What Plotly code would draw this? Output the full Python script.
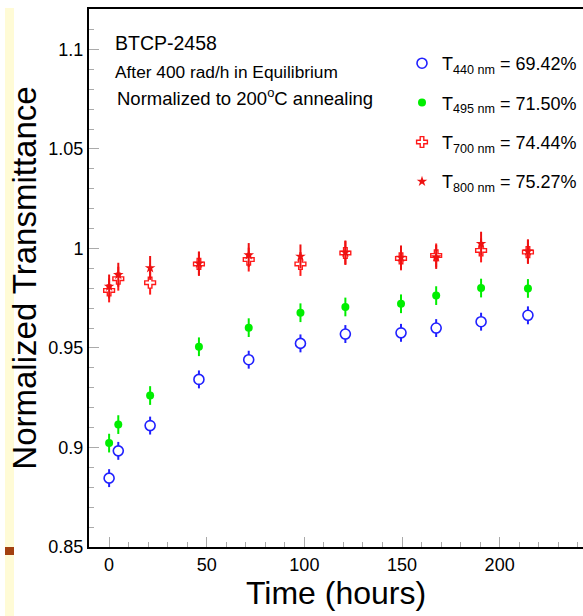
import plotly.graph_objects as go

# ---- data ----
time_h = [0, 4.7, 21, 46, 71.5, 98, 121, 149.5, 167.5, 190.5, 214.5]

t440 = [0.8846, 0.8983, 0.9110, 0.9342, 0.9441, 0.9523, 0.9570, 0.9576, 0.9600, 0.9632, 0.9664]
t495 = [0.9022, 0.9115, 0.9261, 0.9506, 0.9602, 0.9677, 0.9706, 0.9722, 0.9763, 0.9801, 0.9799]
t700 = [0.9789, 0.9848, 0.9828, 0.9922, 0.9944, 0.9922, 0.9977, 0.9950, 0.9965, 0.9990, 0.9982]
t800 = [0.9809, 0.9868, 0.9902, 0.9925, 0.9967, 0.9960, 0.9980, 0.9955, 0.9957, 1.0024, 0.9986]

err440 = [0.0045] * 11
err495 = [0.0047] * 11
err700 = [0.0060] * 11
err800 = [0.0060] * 11

names = [
    "T<sub>440 nm</sub> = 69.42%",
    "T<sub>495 nm</sub> = 71.50%",
    "T<sub>700 nm</sub> = 74.44%",
    "T<sub>800 nm</sub> = 75.27%",
]

x_ticks = [0, 50, 100, 150, 200]
y_ticks = [0.85, 0.9, 0.95, 1.0, 1.05, 1.1]
y_tick_text = ["0.85", "0.9", "0.95", "1", "1.05", "1.1"]

FONT = "Liberation Sans, Arial, Helvetica, sans-serif"

fig = go.Figure()

series = [
    # values, errors, name, line colour, fill colour, symbol, size, line width
    (t440, err440, names[0], "#2020ff", "white", "circle", 10, 1.6),
    (t495, err495, names[1], "#00ee00", "#00ee00", "circle", 8, 0),
    (t700, err700, names[2], "#ff1a1a", "white", "cross", 9, 1.4),
    (t800, err800, names[3], "#ee1111", "#ee1111", "star", 8, 0),
]
for i, (vals, errs, nm, col, fill, sym, sz, lw) in enumerate(series):
    fig.add_trace(go.Scatter(
        x=time_h, y=vals, mode="markers", name=nm,
        legendgroup=f"g{i}",
        marker=dict(symbol=sym, size=sz, color=fill,
                    line=dict(width=lw, color=col)),
        error_y=dict(type="data", array=errs, visible=True,
                     width=0, thickness=2, color=col),
    ))

annotations = [
    dict(text="BTCP-2458", x=113, y=43, size=19.5),
    dict(text="After 400 rad/h in Equilibrium", x=113, y=72, size=17.3),
    dict(text="Normalized to 200<sup>o</sup>C annealing", x=115, y=97, size=18.5),
]
W, H = 583, 616
L, T, B = 89, 9, 69
pw, ph = W - L, H - T - B
ann_list = []
for a in annotations:
    ann_list.append(dict(
        text=a["text"], xref="paper", yref="paper",
        x=(a["x"] - L) / pw, y=(H - B - a["y"]) / ph,
        xanchor="left", yanchor="middle", showarrow=False,
        font=dict(family=FONT, size=a["size"], color="black"),
    ))

fig.update_layout(
    width=W, height=H,
    margin=dict(l=L, r=0, t=T, b=B, pad=0),
    paper_bgcolor="white", plot_bgcolor="white",
    font=dict(family=FONT, color="black"),
    showlegend=True,
    legend=dict(
        x=(402 - L) / pw, y=(H - B - 45) / ph,
        xanchor="left", yanchor="top",
        bgcolor="rgba(0,0,0,0)",
        font=dict(family=FONT, size=18, color="black"),
        traceorder="grouped", tracegroupgap=13,
    ),
    annotations=ann_list,
    xaxis=dict(
        range=[-10.3, 242.7],
        tickmode="array", tickvals=x_ticks,
        ticks="inside", ticklen=10, tickwidth=1, tickcolor="#aaaaaa",
        minor=dict(dtick=10, tick0=0, ticks="inside", ticklen=5,
                   tickwidth=1, tickcolor="#aaaaaa", showgrid=False),
        showline=True, linecolor="black", linewidth=2, mirror=True,
        showgrid=False, zeroline=False,
        tickfont=dict(family=FONT, size=18, color="black"),
        title=dict(text="Time (hours)", font=dict(family=FONT, size=32, color="black"),
                   standoff=7),
    ),
    yaxis=dict(
        range=[0.85, 1.1203],
        tickmode="array", tickvals=y_ticks, ticktext=y_tick_text,
        ticks="inside", ticklen=10, tickwidth=1, tickcolor="#aaaaaa",
        minor=dict(dtick=0.01, tick0=0.85, ticks="inside", ticklen=5,
                   tickwidth=1, tickcolor="#aaaaaa", showgrid=False),
        showline=True, linecolor="black", linewidth=2, mirror=False,
        showgrid=False, zeroline=False,
        tickfont=dict(family=FONT, size=18, color="black"),
        title=dict(text="Normalized Transmittance",
                   font=dict(family=FONT, size=33, color="black"), standoff=2),
    ),
    shapes=[
        dict(type="rect", xref="paper", yref="paper",
             x0=(5 - L) / pw, x1=(14 - L) / pw,
             y0=(H - B - 616) / ph, y1=(H - B - 8) / ph,
             fillcolor="#fffbd6", line=dict(width=0), layer="below"),
        dict(type="rect", xref="paper", yref="paper",
             x0=(5 - L) / pw, x1=(14 - L) / pw,
             y0=(H - B - 555) / ph, y1=(H - B - 547) / ph,
             fillcolor="#a3400f", line=dict(width=0), layer="above"),
    ],
)

fig.write_html("out.html")
